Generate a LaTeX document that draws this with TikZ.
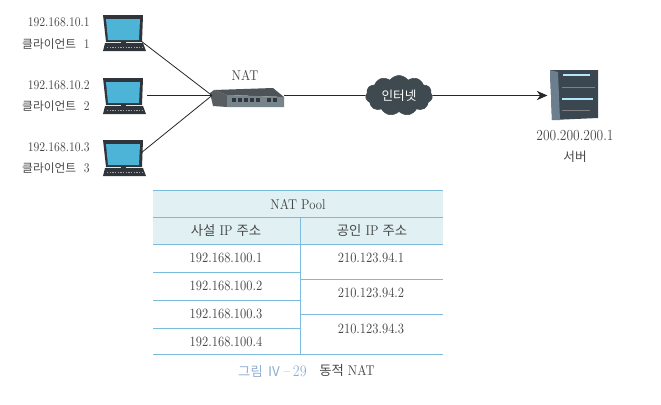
\documentclass[tikz,border=0pt]{standalone}
\usepackage{fontspec}
\usetikzlibrary{arrows.meta,shapes.symbols}
\setmainfont{Latin Modern Roman}[FakeStretch=.88]
\newfontfamily\kr{Noto Sans CJK KR}
\definecolor{txtc}{HTML}{484848}
\definecolor{scrn}{HTML}{4DB4D8}
\definecolor{pcdark}{HTML}{2F353A}
\definecolor{rulec}{HTML}{7DBBDD}
\definecolor{headc}{HTML}{E1F1F3}
\definecolor{capc}{HTML}{8FAFD0}
\definecolor{cloudc}{HTML}{3E4950}
\definecolor{natc}{HTML}{78848B}
\definecolor{srvc}{HTML}{3A4650}
\definecolor{srvside}{HTML}{6C7F8E}
\newcommand\krs[1]{{\kr\fontsize{10}{12}\selectfont #1}}
\newcommand\krc[1]{{\kr\fontsize{8.8}{12}\selectfont #1}}
\tikzset{
	lbl/.style={font=\fontsize{10.6}{12}\selectfont,text=txtc,inner sep=0pt},
	cllbl/.style={lbl,anchor=east,font=\fontsize{9.9}{12}\selectfont},
	link/.style={line width=.6pt,draw=black!85},
	pcbox/.style={minimum width=28.5pt,minimum height=19.5pt,inner sep=0pt,outer sep=0pt},
	rule/.style={draw=rulec,line width=.7pt},
	pcicon/.pic={
		\fill[pcdark] (-19,-13) -- (21,-13) -- (20,14) -- (-16,14) -- cycle;
		\fill[scrn] (-16,-9) -- (18,-9) -- (17,12) -- (-14,12) -- cycle;
		\fill[pcdark] (-1,14) rectangle (4,16);
		\fill[pcdark] (-17,15) -- (21,15) -- (24,23) -- (-19,23) -- cycle;
		\draw[gray!70,line width=.6pt,dash pattern=on 1pt off 1pt] (-15,19) -- (21,19);
	}
}
\begin{document}
\begin{tikzpicture}[x=.75pt,y=-.75pt]
	\useasboundingbox (0,0) rectangle (661,404);
	\path
	(212,95.5) coordinate (natin)
	(284,95.5) coordinate (natout)
	;
	% clients
	\node[pcbox] (pc1) at (122,28) {};
	\node[pcbox] (pc2) at (122,91) {};
	\node[pcbox] (pc3) at (122,153) {};
	\path (pc1) pic {pcicon} (pc2) pic {pcicon} (pc3) pic {pcicon};
	\node[cllbl] (ip1) at (90,22) {192.168.10.1};
	\node[cllbl] (cl1) at (90,44) {\krc{클라이언트}\ \ 1};
	\node[cllbl] (ip2) at (90,85) {192.168.10.2};
	\node[cllbl] (cl2) at (90,106) {\krc{클라이언트}\ \ 2};
	\node[cllbl] (ip3) at (90,147) {192.168.10.3};
	\node[cllbl] (cl3) at (90,168) {\krc{클라이언트}\ \ 3};
	% NAT box
	\node[lbl] (natlbl) at (245,75) {NAT};
	\fill[pcdark!80] (210,93) -- (214,90) -- (227,95) -- (227,107) -- (213,106) -- cycle;
	\fill[pcdark!85] (214,90) -- (273,88) -- (284,97) -- (227,95) -- cycle;
	\fill[natc] (227,95) -- (284,97) -- (284,107) -- (227,107) -- cycle;
	\foreach \x in {232,238,244,250,256,267,273}
		\fill[pcdark] (\x,98) rectangle ++(4,4);
	\draw[link] (pc1.south east) -- (natin);
	\draw[link,shorten <=4.5pt] (pc2.east|-natin) -- (natin);
	\draw[link] (pc3.east) -- (natin);
	% cloud and server
	\node[cloud,cloud puffs=11,cloud puff arc=110,aspect=1.7,fill=cloudc,draw=cloudc,inner sep=0pt,minimum width=50pt,minimum height=30pt,text=white,font=\fontsize{9.5}{10}\selectfont\kr] (inet) at (399,95.5) {인터넷};
	\node[inner sep=0pt,outer sep=1.2pt,minimum width=37.5pt,minimum height=37.5pt] (server) at (574,95.5) {};
	\fill[srvc] (550,70) -- (598,70) -- (598,118) -- (552,120) -- cycle;
	\fill[srvside] (550,70) -- (558,72) -- (560,120) -- (552,120) -- cycle;
	\draw[cyan!30,line width=.8pt] (563,75) -- (590,75) (562,99) -- (593,99);
	\draw[gray,line width=.6pt] (562,87) -- (595,87) (562,110) -- (590,110);
	\draw[link] (natout) -- (inet);
	\draw[link,-{Stealth[length=8pt,width=7pt]}] (inet) -- (server);
	\node[lbl,font=\fontsize{11.5}{12}\selectfont] (srvip) at (575,136) {200.200.200.1};
	\node[lbl,font=\fontsize{9.5}{10}\selectfont\kr] (srvlbl) at (575,157) {서버};
	% pool table
	\fill[headc] (153,190) rectangle (443,244);
	\foreach \y in {190,217,244,354}
		\draw[rule] (153,\y) -- (443,\y);
	\foreach \y in {272,300,328}
		\draw[rule] (153,\y) -- (300,\y);
	\foreach \y in {279,314}
		\draw[rule] (300,\y) -- (443,\y);
	\draw[rule] (300,217) -- (300,354);
	\node[lbl] (pool) at (298,205) {NAT Pool};
	\node[lbl] (priv) at (226,231) {\krs{사설} IP \krs{주소}};
	\node[lbl] (pub) at (372,231) {\krs{공인} IP \krs{주소}};
	\node[lbl] (a1) at (226,258) {192.168.100.1};
	\node[lbl] (a2) at (226,286) {192.168.100.2};
	\node[lbl] (a3) at (226,314) {192.168.100.3};
	\node[lbl] (a4) at (226,342) {192.168.100.4};
	\node[lbl] (b1) at (371,258) {210.123.94.1};
	\node[lbl] (b2) at (371,293) {210.123.94.2};
	\node[lbl] (b3) at (371,329) {210.123.94.3};
	% caption
	\node[lbl,text=capc,anchor=east,font=\fontsize{12}{12}\selectfont] (capa) at (307,371) {\krs{그림}\ \krs{Ⅳ}\,--\,29};
	\node[lbl,anchor=west] (capb) at (319,371) {\krs{동적} NAT};
\end{tikzpicture}
\end{document}
